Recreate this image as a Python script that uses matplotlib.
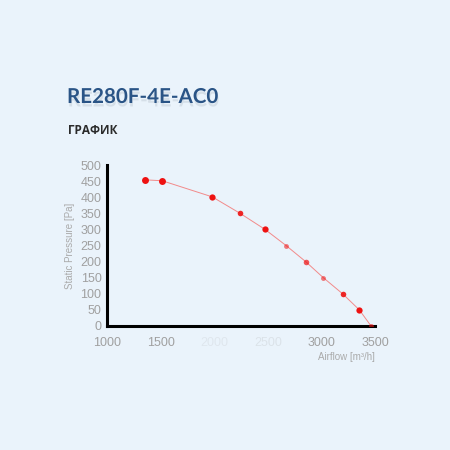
import numpy as np
import matplotlib.pyplot as plt
import matplotlib.patheffects as pe

# fan curve
airflow = [1354, 1516, 1982, 2241, 2474, 2670, 2853, 3018, 3198, 3354, 3463]
pressure = [454, 451, 401, 350, 300, 250, 200, 150, 100, 50, 0]
marker_alpha = [1.0, 1.0, 1.0, 0.9, 1.0, 0.55, 0.7, 0.55, 0.9, 1.0, 0.6]
marker_size = [5, 5, 4.5, 4, 4.5, 3.5, 4, 3.5, 4, 4.5, 3.5]

x_ticks = [1000, 1500, 2000, 2500, 3000, 3500]
x_tick_alpha = [1.0, 1.0, 0.15, 0.2, 1.0, 1.0]
y_ticks = list(range(0, 550, 50))

title = 'RE280F-4E-AC0'
subtitle = 'ГРАФИК'

bg = '#eaf3fb'
fig = plt.figure(figsize=(4.5, 4.5), dpi=100, facecolor=bg)

fig.text(67 / 450, 1 - 97 / 450, title, fontsize=14.8, fontweight='bold',
         color='#2a5486', va='center', ha='left', family='Lato',
         path_effects=[pe.withSimplePatchShadow(offset=(0.5, -2.5), shadow_rgbFace='#9aa6b2', alpha=0.25)])
fig.text(68 / 450, 1 - 131 / 450, subtitle, fontsize=8.5, fontweight='bold',
         color='#2b2b2b', va='center', ha='left', family='Open Sans')

ax = fig.add_axes([107 / 450, 1 - 326 / 450, 268 / 450, 161 / 450])
ax.set_facecolor(bg)
ax.set_xlim(1000, 3500)
ax.set_ylim(0, 500)

ax.plot(airflow, pressure, color='#f28a8a', lw=0.7, zorder=2)
for x, y, a, s in zip(airflow, pressure, marker_alpha, marker_size):
    ax.plot(x, y, 'o', color='#ee1111', alpha=a, ms=s, mec='none', zorder=3)

for s in ['top', 'right']:
    ax.spines[s].set_visible(False)
for s in ['left', 'bottom']:
    ax.spines[s].set_linewidth(2.2)
    ax.spines[s].set_color('black')
    ax.spines[s].set_path_effects([pe.withSimplePatchShadow(offset=(1.5, -1.5), shadow_rgbFace='#888888', alpha=0.35)])

ax.set_yticks(y_ticks)
ax.set_yticklabels([str(v) for v in y_ticks], fontsize=9, color='#a0a0a0', family='Liberation Sans')
ax.set_xticks(x_ticks)
ax.set_xticklabels([str(v) for v in x_ticks], fontsize=9, color='#a0a0a0', family='Liberation Sans')
for lab, a in zip(ax.get_xticklabels(), x_tick_alpha):
    lab.set_alpha(a)
ax.tick_params(axis='both', length=0, pad=4)
ax.tick_params(axis='x', pad=8)

ax.set_ylabel('Static Pressure [Pa]', fontsize=7, color='#aaaaaa', labelpad=4, family='Liberation Sans')
fig.text(346 / 450, 1 - 357 / 450, 'Airflow [m³/h]', fontsize=7,
         color='#aaaaaa', ha='center', va='center', family='Liberation Sans')

fig.savefig('out.png', dpi=100, facecolor=bg)
